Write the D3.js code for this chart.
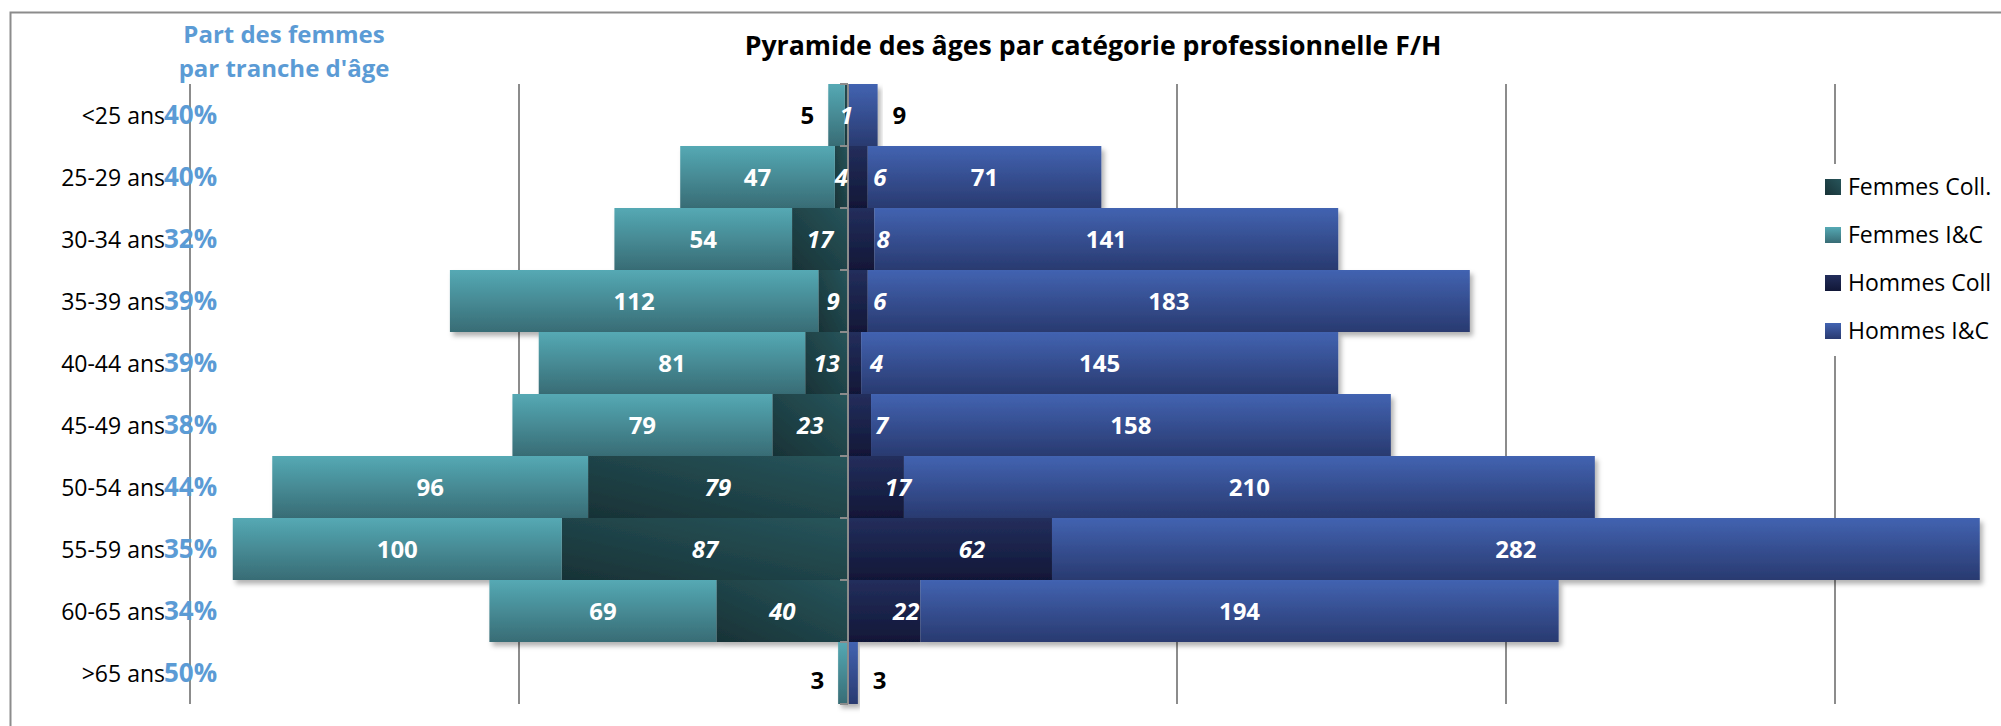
<!DOCTYPE html>
<html>
<head>
<meta charset="utf-8">
<script src="https://cdn.jsdelivr.net/npm/d3@7"></script>
<style>
  html, body { margin: 0; padding: 0; background: #fff; }
  svg { display: block; font-family: "Open Sans", sans-serif; }
  .grid line { stroke: #8c8c8c; stroke-width: 2; }
  .axis line { stroke: #8c8c8c; stroke-width: 2; }
  .lbl { font-weight: bold; font-size: 24px; }
  .cat { font-size: 23px; fill: #000; }
  .pct { font-size: 26px; font-weight: bold; fill: #5b9bd5; }
</style>
</head>
<body>
<svg id="chart" width="2001" height="726"></svg>
<script>
const ages = ['<25 ans', '25-29 ans', '30-34 ans', '35-39 ans', '40-44 ans',
  '45-49 ans', '50-54 ans', '55-59 ans', '60-65 ans', '>65 ans'];
const femmesColl = [1, 4, 17, 9, 13, 23, 79, 87, 40, 0];
const femmesIC = [5, 47, 54, 112, 81, 79, 96, 100, 69, 3];
const hommesColl = [0, 6, 8, 6, 4, 7, 17, 62, 22, 0];
const hommesIC = [9, 71, 141, 183, 145, 158, 210, 282, 194, 3];
const partFemmes = ['40%', '40%', '32%', '39%', '39%', '38%', '44%', '35%', '34%', '50%'];
const gridValues = [-200, -100, 100, 200, 300];
const legendNames = ['Femmes Coll.', 'Femmes I&C', 'Hommes Coll', 'Hommes I&C'];

const svg = d3.select('#chart');

const x = d3.scaleLinear().domain([-200, 300]).range([190, 1835]);
const y = d3.scaleBand().domain(ages).range([84, 704]).padding(0);
const x0 = x(0);

// gradients
const defs = svg.append('defs');
const grad = (id, top, bottom, diag) => {
  const g = defs.append('linearGradient').attr('id', id)
    .attr('x1', 0).attr('y1', 0)
    .attr('x2', diag ? 1 : 0).attr('y2', 1);
  if (diag) g.attr('x1', 1).attr('x2', 0);
  g.append('stop').attr('offset', '0%').attr('stop-color', top);
  g.append('stop').attr('offset', '100%').attr('stop-color', bottom);
};
grad('g-fcoll', '#27555b', '#183236', true);
grad('g-fic', '#55a9b4', '#386c75');
grad('g-hcoll', '#232e5c', '#111737');
grad('g-hic', '#4263b1', '#293a70');

const shadow = defs.append('filter').attr('id', 'shadow')
  .attr('x', '-5%').attr('y', '-10%').attr('width', '115%').attr('height', '140%');
shadow.append('feDropShadow')
  .attr('dx', 3).attr('dy', 4).attr('stdDeviation', 2.5)
  .attr('flood-color', '#000').attr('flood-opacity', 0.3);

const fills = ['url(#g-fcoll)', 'url(#g-fic)', 'url(#g-hcoll)', 'url(#g-hic)'];

// frame
svg.append('rect')
    .attr('x', 10.5).attr('y', 12.5)
    .attr('width', 2010).attr('height', 730)
    .attr('fill', 'none').attr('stroke', '#8c8c8c').attr('stroke-width', 2);

// gridlines
svg.append('g')
    .attr('class', 'grid')
  .selectAll('line')
  .data(gridValues)
  .join('line')
    .attr('x1', d => x(d)).attr('x2', d => x(d))
    .attr('y1', y.range()[0]).attr('y2', y.range()[1]);

// bars
const rows = ages.map((a, i) => ({
  age: a,
  fc: femmesColl[i], fi: femmesIC[i],
  hc: hommesColl[i], hi: hommesIC[i]
}));

const segs = [];
rows.forEach(r => {
  segs.push({ age: r.age, a: -r.fc, b: 0, fill: fills[0] });
  segs.push({ age: r.age, a: -(r.fc + r.fi), b: -r.fc, fill: fills[1] });
  segs.push({ age: r.age, a: 0, b: r.hc, fill: fills[2] });
  segs.push({ age: r.age, a: r.hc, b: r.hc + r.hi, fill: fills[3] });
});

const bars = svg.append('g').attr('class', 'bars');
rows.forEach(r => {
  const g = bars.append('g').attr('filter', 'url(#shadow)');
  g.selectAll('rect')
    .data(segs.filter(s => s.age === r.age && s.b > s.a))
    .join('rect')
      .attr('x', s => x(s.a))
      .attr('y', s => y(s.age))
      .attr('width', s => x(s.b) - x(s.a))
      .attr('height', y.bandwidth())
      .attr('fill', s => s.fill);
});

// central axis with ticks between categories
const axis = svg.append('g').attr('class', 'axis');
axis.append('line')
    .attr('x1', x0).attr('x2', x0)
    .attr('y1', y.range()[0]).attr('y2', y.range()[1]);
axis.selectAll('line.tick')
  .data(ages.map(a => y(a)).concat([y.range()[1]]))
  .join('line')
    .attr('class', 'tick')
    .attr('x1', x0 - 8).attr('x2', x0)
    .attr('y1', d => d).attr('y2', d => d);

// data labels
const labels = svg.append('g').attr('class', 'labels');
const mid = a => y(a) + y.bandwidth() / 2;
rows.forEach((r, i) => {
  // the last row's outside labels sit a little lower in the original
  const cy = mid(r.age) + (i === rows.length - 1 ? 7 : 0);
  const put = (tx, txt, anchor, fill, italic) => labels.append('text')
      .attr('class', 'lbl')
      .attr('x', tx).attr('y', cy)
      .attr('dy', '0.36em')
      .attr('text-anchor', anchor)
      .attr('fill', fill)
      .attr('font-style', italic ? 'italic' : 'normal')
      .text(txt);

  if (r.fi >= 10) put(x(-(r.fc + r.fi / 2)), r.fi, 'middle', '#fff');
  else put(x(-(r.fc + r.fi)) - 14, r.fi, 'end', '#000');

  if (r.fc > 0) put(x(-r.fc / 2), r.fc, 'middle', '#fff', true);
  if (r.hc > 0) put(x(r.hc / 2) + 22, r.hc, 'middle', '#fff', true);

  if (r.hi >= 10) put(x(r.hc + r.hi / 2), r.hi, 'middle', '#fff');
  else put(x(r.hc + r.hi) + 15, r.hi, 'start', '#000');
});

// category labels + share of women
svg.append('g')
  .selectAll('text')
  .data(ages)
  .join('text')
    .attr('class', 'cat')
    .attr('x', 165).attr('y', a => mid(a) + 9)
    .attr('text-anchor', 'end')
    .text(a => a);

svg.append('g')
  .selectAll('text')
  .data(partFemmes)
  .join('text')
    .attr('class', 'pct')
    .attr('x', 164).attr('y', (p, i) => mid(ages[i]) + 9)
    .text(p => p);

// titles
svg.append('text')
    .attr('x', 1093).attr('y', 55)
    .attr('text-anchor', 'middle')
    .attr('font-size', 26.7).attr('font-weight', 'bold')
    .text('Pyramide des âges par catégorie professionnelle F/H');

const side = svg.append('text')
    .attr('text-anchor', 'middle')
    .attr('font-size', 24).attr('font-weight', 'bold')
    .attr('fill', '#5b9bd5');
side.append('tspan').attr('x', 284).attr('y', 43).text('Part des femmes');
side.append('tspan').attr('x', 284).attr('y', 77).text("par tranche d'âge");

// legend
const legend = svg.append('g').attr('class', 'legend');
legend.append('rect')
    .attr('x', 1815).attr('y', 164)
    .attr('width', 186).attr('height', 192)
    .attr('fill', '#fff');
const item = legend.selectAll('g.item')
  .data(legendNames)
  .join('g')
    .attr('class', 'item')
    .attr('transform', (d, i) => `translate(1825,${187 + i * 48})`);
item.append('rect')
    .attr('x', 0).attr('y', -8)
    .attr('width', 16).attr('height', 16)
    .attr('fill', (d, i) => fills[i]);
item.append('text')
    .attr('x', 23).attr('y', 0)
    .attr('dy', '0.35em')
    .attr('font-size', 23)
    .text(d => d);
</script>
</body>
</html>
